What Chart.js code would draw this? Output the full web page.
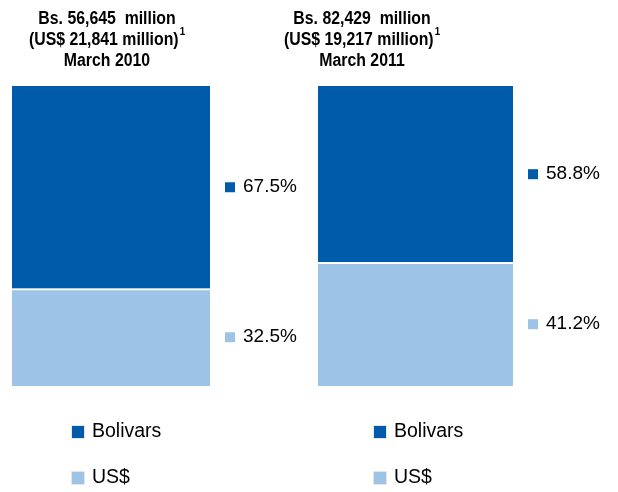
<!DOCTYPE html>
<html>
<head>
<meta charset="utf-8">
<script src="https://cdn.jsdelivr.net/npm/chart.js@4.4.0/dist/chart.umd.min.js"></script>
<style>
  body { margin: 0; background: #fff; }
  .wrap { position: relative; width: 618px; height: 492px; }
  .box { position: absolute; top: 0; height: 492px; }
  #box1 { left: 0; width: 309px; }
  #box2 { left: 240px; width: 378px; }
</style>
</head>
<body>
<div class="wrap">
  <div class="box" id="box1"><canvas id="mix2010"></canvas></div>
  <div class="box" id="box2"><canvas id="mix2011"></canvas></div>
</div>
<script>
// funding mix, Bolivars vs US$ share of total
const seriesNames = ['Bolivars', 'US$'];
const periods = ['March 2010', 'March 2011'];
const totalsBs = ['56,645', '82,429'];
const totalsUsd = ['21,841', '19,217'];
const bolivarsPct = [67.5, 58.8];
const usdPct = [32.5, 41.2];

const darkBlue = '#005BAA';
const lightBlue = '#9DC3E6';
const FONT = '"Liberation Sans", Arial, sans-serif';

// per chart: padding around the bar, title center and legend offset (from bar left)
const boxes = [
  { id: 'mix2010', padLeft: 12, padRight: 99, titleDx: 95, legendDx: 60 },
  { id: 'mix2011', padLeft: 78, padRight: 105, titleDx: 44, legendDx: 56 }
];

// narrow bold text for the headings
function headText(ctx, t, x, y, size) {
  ctx.save();
  ctx.translate(x, y);
  ctx.scale(0.88, 1);
  ctx.font = 'bold ' + size + 'px ' + FONT;
  ctx.fillText(t, 0, 0);
  ctx.restore();
}
function headWidth(ctx, t, size) {
  ctx.font = 'bold ' + size + 'px ' + FONT;
  return ctx.measureText(t).width * 0.88;
}

const decorations = {
  id: 'decorations',
  afterDatasetsDraw(chart, args, opts) {
    const ctx = chart.ctx;
    const area = chart.chartArea;
    const i = opts.index;
    ctx.save();

    // value labels to the right of each segment
    chart.data.datasets.forEach((ds, d) => {
      const el = chart.getDatasetMeta(d).data[0];
      const right = el.x + el.width / 2;
      const y = (el.y + el.base) / 2;
      ctx.fillStyle = ds.backgroundColor;
      ctx.fillRect(right + 15, y - 5, 10, 10);
      ctx.fillStyle = '#000';
      ctx.font = '19px ' + FONT;
      ctx.textBaseline = 'middle';
      ctx.textAlign = 'left';
      ctx.fillText(ds.data[0].toFixed(1) + '%', right + 33, y);
    });

    // title block
    const cx = area.left + opts.titleDx;
    const lines = ['Bs. ' + totalsBs[i] + '  million', '(US$ ' + totalsUsd[i] + ' million)', periods[i]];
    ctx.fillStyle = '#000';
    ctx.textBaseline = 'middle';
    ctx.textAlign = 'left';
    lines.forEach((t, k) => {
      const y = area.top - 67 + k * 21;
      const w = headWidth(ctx, t, 18);
      const sw = k === 1 ? headWidth(ctx, '1', 11) + 1 : 0;
      const x0 = cx - (w + sw) / 2;
      headText(ctx, t, x0, y, 18);
      if (k === 1) headText(ctx, '1', x0 + w + 1, y - 8, 11);
    });

    // legend below the bar
    const colors = [darkBlue, lightBlue];
    seriesNames.forEach((name, k) => {
      const x = area.left + opts.legendDx;
      const y = area.bottom + 46 + k * 46;
      ctx.fillStyle = '#e6e6e6';
      ctx.fillRect(x - 1, y - 7, 14, 14);
      ctx.fillStyle = colors[k];
      ctx.fillRect(x, y - 6, 12, 12);
      ctx.fillStyle = '#000';
      ctx.font = '19.5px ' + FONT;
      ctx.textAlign = 'left';
      ctx.fillText(name, x + 20, y);
    });

    ctx.restore();
  }
};

boxes.forEach((b, i) => {
  new Chart(document.getElementById(b.id), {
    type: 'bar',
    data: {
      labels: [periods[i]],
      datasets: [
        {
          label: seriesNames[1],
          data: [usdPct[i]],
          backgroundColor: lightBlue,
          borderColor: '#fff',
          borderWidth: { top: 2, left: 0, right: 0, bottom: 0 },
          borderSkipped: false
        },
        {
          label: seriesNames[0],
          data: [bolivarsPct[i]],
          backgroundColor: darkBlue,
          borderWidth: 0
        }
      ]
    },
    options: {
      responsive: true,
      maintainAspectRatio: false,
      animation: false,
      barPercentage: 1,
      categoryPercentage: 1,
      layout: { padding: { top: 86, bottom: 106, left: b.padLeft, right: b.padRight } },
      scales: {
        x: { stacked: true, display: false },
        y: { stacked: true, display: false, min: 0, max: 100 }
      },
      plugins: {
        legend: { display: false },
        title: { display: false },
        tooltip: { enabled: false },
        decorations: { index: i, titleDx: b.titleDx, legendDx: b.legendDx }
      }
    },
    plugins: [decorations]
  });
});
</script>
</body>
</html>
